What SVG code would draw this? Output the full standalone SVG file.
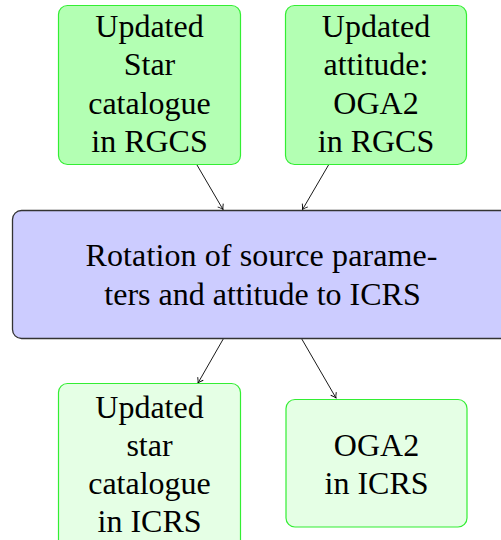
<svg xmlns="http://www.w3.org/2000/svg" width="501" height="540" viewBox="0 0 501 540">
<defs>
<style>
text{font-family:'Liberation Serif','Times New Roman','DejaVu Serif',serif;font-size:32px;fill:#000;text-anchor:middle}
.g1{fill:#b3ffb3;stroke:#33ee33;stroke-width:1.2}
.g2{fill:#e5ffe5;stroke:#33ee33;stroke-width:1.2}
.b{fill:#ccccff;stroke:#333;stroke-width:1.3}
.c{stroke:#000;stroke-width:0.9;fill:none;marker-end:url(#ah)}
</style>
<marker id="ah" viewBox="-6 -4 8 8" markerWidth="8" markerHeight="8" refX="0" refY="0" orient="auto" markerUnits="userSpaceOnUse">
<path d="M-5,-3.2 Q-2,-0.8 0,0 Q-2,0.8 -5,3.2" fill="none" stroke="#000" stroke-width="0.9"/>
</marker>
</defs>
<g id="connectors">
<line class="c" x1="197" y1="165" x2="223" y2="209.5"/>
<line class="c" x1="328.5" y1="165" x2="302.5" y2="209.5"/>
<line class="c" x1="223.5" y1="338.5" x2="198" y2="383"/>
<line class="c" x1="301.5" y1="338.5" x2="336" y2="398"/>
</g>
<g id="n1">
<rect class="g1" x="58.5" y="5.5" width="182" height="159" rx="9"/>
<text x="149.5" y="37">Updated</text>
<text x="149.5" y="75.3">Star</text>
<text x="149.5" y="113.6">catalogue</text>
<text x="149.5" y="152">in RGCS</text>
</g>
<g id="n2">
<rect class="g1" x="285.5" y="5.5" width="181" height="159" rx="9"/>
<text x="376" y="37">Updated</text>
<text x="376" y="75.3">attitude:</text>
<text x="376" y="113.6">OGA2</text>
<text x="376" y="152">in RGCS</text>
</g>
<g id="n3">
<rect class="b" x="12.5" y="210.5" width="500" height="128" rx="9"/>
<text x="261.5" y="266" textLength="352" lengthAdjust="spacing">Rotation of source parame-</text>
<text x="262.5" y="305">ters and attitude to ICRS</text>
</g>
<g id="n4">
<rect class="g2" x="58.5" y="383.5" width="182" height="170" rx="9"/>
<text x="149.5" y="417.5">Updated</text>
<text x="149.5" y="455.8">star</text>
<text x="149.5" y="494.1">catalogue</text>
<text x="149.5" y="532.4">in ICRS</text>
</g>
<g id="n5">
<rect class="g2" x="286" y="399.5" width="181" height="127.5" rx="9"/>
<text x="376.5" y="455.8">OGA2</text>
<text x="376.5" y="494.1">in ICRS</text>
</g>
</svg>
